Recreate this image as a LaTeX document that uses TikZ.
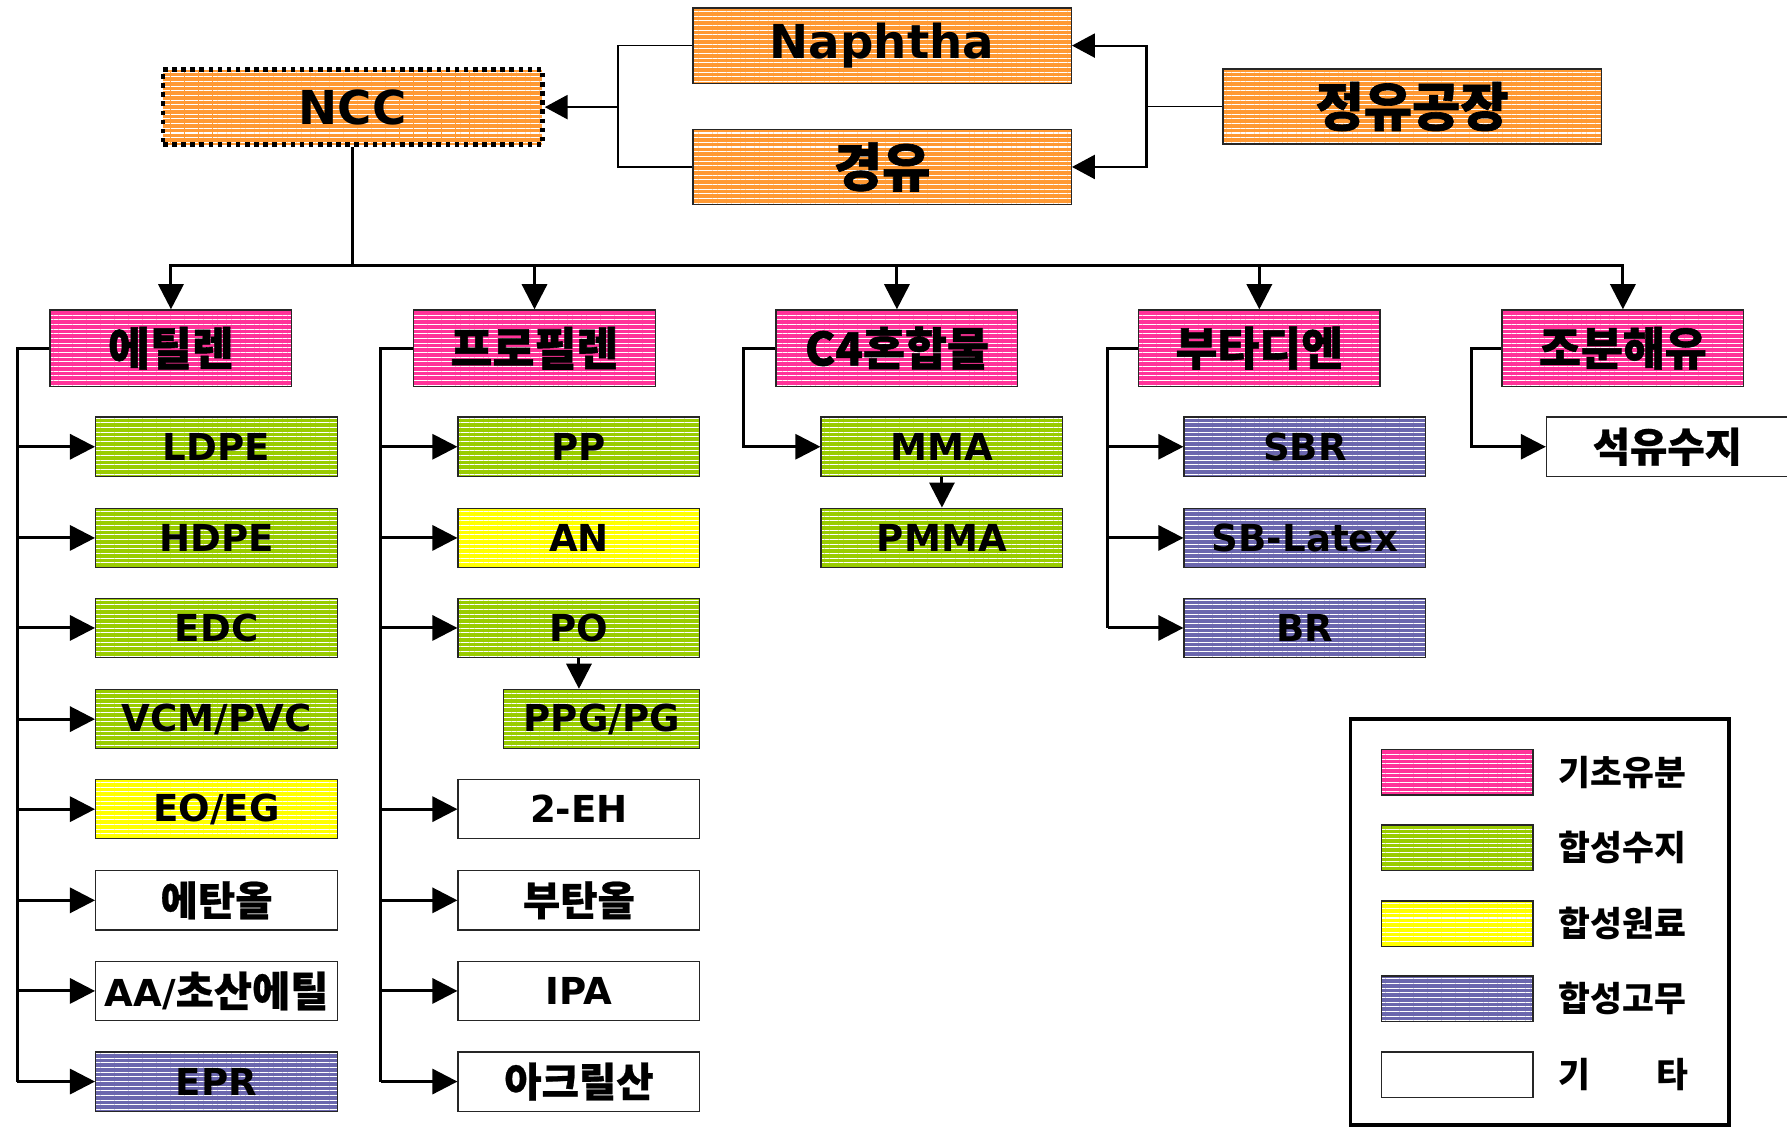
\documentclass[tikz,border=0pt]{standalone}
\usepackage{fontspec}
\setmainfont{DejaVu Sans}
\newfontfamily\ko{Noto Sans CJK KR}
\newfontfamily\koh{Noto Sans CJK KR}[BoldFeatures={FakeBold=1.2}]
\newfontfamily\kom{Noto Sans CJK KR}[BoldFeatures={FakeBold=0.6}]
\usetikzlibrary{arrows.meta,patterns.meta}
\definecolor{cpink}{HTML}{FF3399}
\definecolor{cgreen}{HTML}{99CC00}
\definecolor{cyellow}{HTML}{FFFF00}
\definecolor{cpurple}{HTML}{6B67AE}
\definecolor{corange}{HTML}{FF9933}
\begin{document}
\begin{tikzpicture}[x=0.5pt,y=-0.5pt,
  box/.style={draw=black!85, line width=0.6pt, inner sep=0pt, text=black},
  striped/.style={preaction={fill=#1}, pattern={Lines[angle=0,distance=2.05pt,line width=0.45pt]}, pattern color=white},
  plain/.style={fill=white},
  topbox/.style={box, striped=corange, minimum width=166pt, minimum height=33pt, font=\bfseries\fontsize{20.5}{20}\selectfont},
  ktop/.style={topbox, font=\koh\bfseries\fontsize{23}{23}\selectfont},
  cat/.style={box, striped=cpink, minimum width=106pt, minimum height=33.5pt, font=\koh\bfseries\fontsize{20}{20}\selectfont},
  item/.style={box, minimum width=106pt, minimum height=26pt, font=\bfseries\fontsize{16.3}{16}\selectfont},
  kitem/.style={item, font=\kom\bfseries\fontsize{17.8}{17}\selectfont},
  swatch/.style={box, minimum width=66.5pt, minimum height=20pt},
  leglabel/.style={anchor=west, inner sep=0pt, font=\ko\bfseries\fontsize{15.2}{15}\selectfont},
  ln/.style={line width=1.3pt, line join=miter},
  arr/.style={line width=1.3pt, -{Triangle[length=11pt,width=11pt]}},
  thinln/.style={line width=0.7pt},
  thinarr/.style={line width=0.9pt, -{Triangle[length=10pt,width=10.5pt]}}
]
\useasboundingbox (0,0) rectangle (1568,990);

% top row
\node[box, striped=corange, minimum width=166.5pt, minimum height=33pt,
      draw=black, line width=2pt, dash pattern=on 2pt off 2pt,
      font=\bfseries\fontsize{20.5}{20}\selectfont] (ncc) at (309.5,94) {NCC};
\node[topbox] (naph) at (774,40) {Naphtha};
\node[ktop] (gy) at (774,146.5) {경유};
\node[ktop] (ref) at (1239,93.5) {정유공장};

\coordinate (rj) at (1006,93.5);
\coordinate (lj) at (542,94);
\draw[thinln] (ref.west) -- (rj);
\draw[thinarr] (rj) |- (naph.east);
\draw[thinarr] (rj) |- (gy.east);
\draw[thinln] (naph.west) -| (lj) |- (gy.west);
\draw[thinarr, line width=1.1pt] (lj) -- (ncc.east);

% categories
\node[cat] (eth) at (150,305.5) {에틸렌};
\node[cat] (prop) at (469,305.5) {프로필렌};
\node[cat] (c4) at (787,305.5) {C4혼합물};
\node[cat] (buta) at (1105,305.5) {부타디엔};
\node[cat] (crk) at (1424,305.5) {조분해유};

\coordinate (bus) at (309.5,233);
\draw[ln] (ncc.south) -- (bus);
\foreach \c in {eth,prop,c4,buta,crk}{
  \draw[arr] (bus) -| (\c.north);
}

% column 1
\node[item, striped=cgreen] (ldpe) at (190,392) {LDPE};
\node[item, striped=cgreen] (hdpe) at (190,472) {HDPE};
\node[item, striped=cgreen] (edc) at (190,551) {EDC};
\node[item, striped=cgreen] (vcm) at (190,631) {VCM/PVC};
\node[item, striped=cyellow] (eoeg) at (190,710) {EO/EG};
\node[kitem, plain] (ethanol) at (190,790) {에탄올};
\node[item, plain] (aa) at (190,869.5) {AA/{\kom\fontsize{18.2}{17}\selectfont 초산에틸}};
\node[item, striped=cpurple] (epr) at (190,949) {EPR};

% column 2
\node[item, striped=cgreen] (pp) at (508,392) {PP};
\node[item, striped=cyellow] (an) at (508,472) {AN};
\node[item, striped=cgreen] (po) at (508,551) {PO};
\node[item, striped=cgreen, minimum width=86pt] (ppg) at (528,631) {PPG/PG};
\node[item, plain] (eh) at (508,710) {2-EH};
\node[kitem, plain] (butanol) at (508,790) {부탄올};
\node[item, plain] (ipa) at (508,869.5) {IPA};
\node[kitem, plain] (acryl) at (508,949) {아크릴산};

% column 3
\node[item, striped=cgreen] (mma) at (826.5,392) {MMA};
\node[item, striped=cgreen] (pmma) at (826.5,472) {PMMA};

% column 4
\node[item, striped=cpurple] (sbr) at (1145,392) {SBR};
\node[item, striped=cpurple] (sbl) at (1145,472) {SB-Latex};
\node[item, striped=cpurple] (br) at (1145,551) {BR};

% column 5
\node[kitem, plain] (resin) at (1463,392) {석유수지};

% spines
\coordinate (s1) at (15,0);
\coordinate (s2) at (334,0);
\coordinate (s3) at (652,0);
\coordinate (s4) at (972,0);
\coordinate (s5) at (1291,0);

\draw[ln] (eth.west) -| (s1 |- epr.west);
\foreach \n in {ldpe,hdpe,edc,vcm,eoeg,ethanol,aa,epr}{
  \draw[arr] (s1 |- \n.west) -- (\n.west);
}
\draw[ln] (prop.west) -| (s2 |- acryl.west);
\foreach \n in {pp,an,po,eh,butanol,ipa,acryl}{
  \draw[arr] (s2 |- \n.west) -- (\n.west);
}
\draw[arr] (po.south) -- (po.south |- ppg.north);

\draw[arr] (c4.west) -- (s3 |- c4.west) |- (mma.west);
\draw[arr] (mma.south) -- (pmma.north);

\draw[ln] (buta.west) -| (s4 |- br.west);
\foreach \n in {sbr,sbl,br}{
  \draw[arr] (s4 |- \n.west) -- (\n.west);
}

\draw[arr] (crk.west) -- (s5 |- crk.west) |- (resin.west);

% legend
\node[draw=black, line width=1.6pt, minimum width=166pt, minimum height=178pt, inner sep=0pt] (legend) at (1351,809) {};
\node[swatch, striped=cpink] (sw1) at (1278.5,677.5) {};
\node[swatch, striped=cgreen] (sw2) at (1278.5,744) {};
\node[swatch, striped=cyellow] (sw3) at (1278.5,810.5) {};
\node[swatch, striped=cpurple] (sw4) at (1278.5,876.5) {};
\node[swatch, plain] (sw5) at (1278.5,943) {};
\node[leglabel] (lb1) at (1367,677.5) {기초유분};
\node[leglabel] (lb2) at (1367,744) {합성수지};
\node[leglabel] (lb3) at (1367,810.5) {합성원료};
\node[leglabel] (lb4) at (1367,876.5) {합성고무};
\node[leglabel] (lb5) at (1367,943) {\makebox[57pt][l]{기\hfill 타}};
\end{tikzpicture}
\end{document}
